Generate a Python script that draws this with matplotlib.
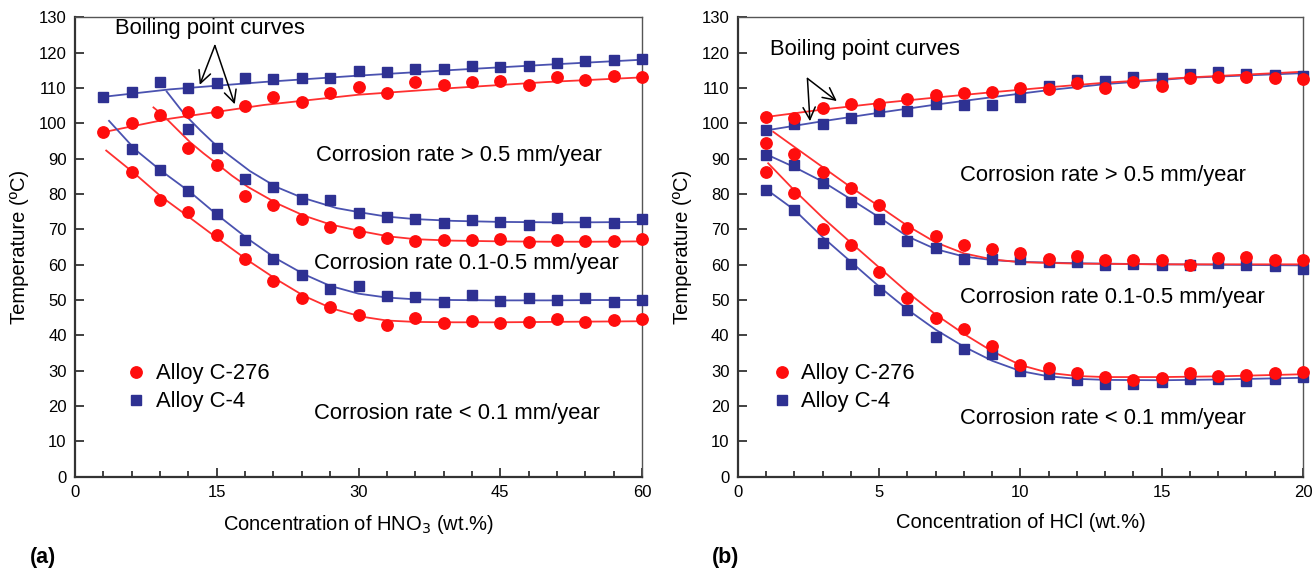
import matplotlib
matplotlib.use('Agg')
import matplotlib.pyplot as plt
from matplotlib.ticker import MultipleLocator

plt.rcParams['font.family'] = ['Liberation Sans', 'DejaVu Sans']

RED = '#ff0d0d'
BLUE = '#2e3192'
RED_LINE = '#ff3030'
BLUE_LINE = '#4a52b0'

# ---------------- (a) HNO3 ----------------
hno3_x = [3, 6, 9, 12, 15, 18, 21, 24, 27, 30, 33, 36, 39, 42, 45, 48, 51, 54, 57, 60]
hno3_bp_c276 = [97.6, 100.2, 102.4, 103.3, 103.2, 105.0, 107.5, 106.1, 108.7, 110.3,
                108.5, 111.6, 110.9, 111.6, 112.0, 110.8, 113.2, 112.3, 113.3, 113.0]
hno3_bp_c4 = [107.4, 109.0, 111.8, 110.1, 111.5, 112.7, 112.5, 112.7, 112.7, 114.8,
              114.6, 115.5, 115.3, 116.2, 115.8, 116.3, 117.0, 117.7, 118.0, 118.3]

hno3_hi_x = [12, 15, 18, 21, 24, 27, 30, 33, 36, 39, 42, 45, 48, 51, 54, 57, 60]
hno3_hi_c276 = [92.9, 88.3, 79.3, 76.8, 72.9, 70.8, 69.2, 67.6, 66.7, 67.0, 67.0, 67.2,
                66.5, 67.0, 66.7, 66.7, 67.2]
hno3_hi_c4 = [98.5, 92.9, 84.3, 82.0, 78.5, 78.2, 74.6, 73.6, 72.8, 71.7, 72.7, 72.1,
              71.2, 73.1, 72.1, 71.9, 73.0]

hno3_lo_x = [6, 9, 12, 15, 18, 21, 24, 27, 30, 33, 36, 39, 42, 45, 48, 51, 54, 57, 60]
hno3_lo_c276 = [86.2, 78.4, 74.8, 68.3, 61.7, 55.4, 50.5, 48.0, 45.9, 42.9, 44.9, 43.5,
                44.0, 43.5, 43.7, 44.6, 43.7, 44.4, 44.6]
hno3_lo_c4 = [92.6, 86.7, 80.9, 74.3, 67.1, 61.5, 57.2, 53.2, 54.0, 51.1, 50.8, 49.4,
              51.3, 49.6, 50.5, 49.9, 50.5, 49.4, 50.1]

# fitted curves
fit_a_bp_x = [3, 10, 20, 30, 40, 50, 60]
fit_a_bp_c276 = [97.5, 101.3, 105.2, 108.1, 110.0, 111.7, 113.0]
fit_a_bp_c4 = [107.5, 109.6, 111.7, 113.5, 115.1, 116.6, 118.0]

fit_a_hi_c276_x = [8.3, 9.3, 10.8, 12.2, 13.6, 15, 16.6, 18.3, 21.4, 24.2, 27, 30.2, 33.2,
                   36.1, 40, 45, 50, 55, 60]
fit_a_hi_c276 = [104.5, 102.3, 98.3, 94.6, 91.5, 88.6, 85.2, 82.0, 77.3, 73.9, 71.4, 69.5,
                 68.0, 67.2, 66.8, 66.6, 66.5, 66.5, 66.6]
fit_a_hi_c4_x = [9.7, 11.6, 13.3, 15, 18.5, 21.3, 24, 27.7, 30.2, 33, 36, 40, 45, 50, 55, 60]
fit_a_hi_c4 = [109.0, 102.5, 97.9, 93.6, 86.5, 82.0, 79.0, 76.0, 74.8, 73.6, 72.9, 72.4,
               72.1, 72.0, 72.0, 72.1]

fit_a_lo_c276_x = [3.3, 6.3, 9.1, 12, 15, 18.3, 21.4, 24.2, 27.2, 30.3, 33, 36, 40, 45, 50,
                   55, 60]
fit_a_lo_c276 = [92.3, 85.8, 79.3, 73.6, 67.6, 61.2, 55.7, 51.2, 47.6, 45.3, 44.2, 43.8,
                 43.7, 43.7, 43.8, 43.9, 44.0]
fit_a_lo_c4_x = [3.6, 6.4, 9.1, 12.2, 15, 18.3, 21.3, 24.3, 27, 30, 33, 36, 40, 45, 50, 55, 60]
fit_a_lo_c4 = [100.7, 92.5, 86.6, 80.5, 74.2, 67.3, 61.7, 57.2, 54.0, 51.8, 50.7, 50.2,
               50.0, 49.9, 49.9, 50.0, 50.0]

# ---------------- (b) HCl ----------------
hcl_x = list(range(1, 21))
hcl_bp_c276 = [101.9, 101.6, 104.4, 105.6, 105.5, 107.0, 108.0, 108.5, 109.0, 110.1,
               109.6, 111.3, 110.1, 111.8, 110.6, 112.7, 113.0, 113.2, 112.7, 112.5]
hcl_bp_c4 = [98.1, 99.7, 99.9, 101.6, 103.4, 103.4, 105.4, 105.2, 105.2, 107.4,
             110.6, 112.2, 112.0, 113.2, 112.7, 113.9, 114.4, 113.9, 113.7, 113.4]
hcl_hi_c276 = [94.4, 91.4, 86.2, 81.6, 76.9, 70.4, 68.0, 65.7, 64.4, 63.3,
               61.5, 62.4, 61.4, 61.4, 61.4, 59.8, 61.9, 62.2, 61.2, 61.4]
hcl_hi_c4 = [91.1, 88.3, 83.0, 77.7, 72.9, 66.8, 64.8, 61.7, 61.7, 61.7,
             60.7, 60.7, 59.8, 60.3, 59.8, 60.0, 60.5, 59.8, 59.5, 58.8]
hcl_lo_c276 = [86.1, 80.2, 70.2, 65.6, 57.9, 50.6, 44.9, 41.9, 37.0, 31.6,
               30.8, 29.4, 28.1, 27.5, 28.0, 29.4, 28.6, 28.9, 29.4, 29.6]
hcl_lo_c4 = [81.1, 75.4, 66.2, 60.1, 52.7, 47.2, 39.4, 36.2, 34.6, 29.8,
             29.1, 27.5, 26.3, 26.3, 26.7, 27.7, 27.7, 27.0, 27.7, 28.1]

fit_b_bp_x = [1, 3, 5, 7, 9, 11, 13, 16, 20]
fit_b_bp_c276 = [101.8, 103.9, 105.7, 107.3, 108.8, 110.2, 111.5, 113.0, 114.6]
fit_b_bp_c4 = [98.0, 100.6, 103.0, 105.3, 107.4, 109.4, 111.1, 112.9, 114.2]

fit_b_hi_c276_x = [1.25, 2, 3, 4, 5, 6, 7, 8, 9, 10, 12, 15, 20]
fit_b_hi_c276 = [97.6, 93.3, 87.6, 81.9, 76.5, 71.0, 66.3, 63.2, 61.5, 60.7, 60.3, 60.1, 60.1]
fit_b_hi_c4_x = [1.04, 2, 3, 4, 5, 6, 7, 8, 9, 10, 12, 15, 20]
fit_b_hi_c4 = [91.1, 87.6, 83.5, 78.5, 73.4, 68.0, 64.4, 62.3, 61.3, 60.8, 60.4, 60.1, 59.8]

fit_b_lo_c276_x = [1.07, 2, 3, 4, 5, 6, 7, 8, 9, 10, 11, 12, 13, 15, 17, 20]
fit_b_lo_c276 = [88.7, 81.0, 73.3, 66.2, 59.2, 52.2, 45.9, 40.4, 35.5, 31.6, 29.4, 28.5,
                 28.2, 28.2, 28.4, 29.0]
fit_b_lo_c4_x = [1.04, 2, 3, 4, 5, 6, 7, 8, 9, 10, 11, 12, 13, 15, 17, 20]
fit_b_lo_c4 = [81.1, 75.5, 67.8, 60.8, 53.8, 47.3, 41.6, 36.8, 32.8, 29.9, 28.4, 27.7,
               27.4, 27.3, 27.5, 28.0]


def style_axes(ax, xmax, xmajor, xminor, xlabel):
    ax.set_xlim(0, xmax)
    ax.set_ylim(0, 130)
    ax.xaxis.set_major_locator(MultipleLocator(xmajor))
    ax.xaxis.set_minor_locator(MultipleLocator(xminor))
    ax.yaxis.set_major_locator(MultipleLocator(10))
    ax.tick_params(which='both', direction='in', top=False, right=False, colors='#333333',
                   labelcolor='black', labelsize=12, width=1.3)
    ax.tick_params(which='major', length=6.5)
    ax.tick_params(which='minor', length=4)
    ax.tick_params(axis='y', pad=6)
    ax.tick_params(axis='x', pad=6)
    for side in ['left', 'bottom']:
        ax.spines[side].set_linewidth(1.6)
        ax.spines[side].set_color('#333333')
    for side in ['top', 'right']:
        ax.spines[side].set_linewidth(1.0)
        ax.spines[side].set_color('#555555')
    ax.set_ylabel('Temperature (ºC)', fontsize=14.5, labelpad=7)
    ax.set_xlabel(xlabel, fontsize=14.5, labelpad=9)


def draw_pair(ax, x_red, y_red, x_blue, y_blue, fx_red, fy_red, fx_blue, fy_blue, labels=False):
    ax.plot(fx_blue, fy_blue, color=BLUE_LINE, lw=1.3, zorder=2)
    ax.plot(fx_red, fy_red, color=RED_LINE, lw=1.3, zorder=2)
    ax.plot(x_blue, y_blue, linestyle='none', marker='s', ms=7.4, color=BLUE, mec=BLUE,
            clip_on=False, zorder=3, label='Alloy C-4' if labels else None)
    ax.plot(x_red, y_red, linestyle='none', marker='o', ms=8.2, color=RED, mec=RED,
            clip_on=False, zorder=3, label='Alloy C-276' if labels else None)


fig = plt.figure(figsize=(13.14, 5.77), dpi=100)
ax1 = fig.add_axes([0.0571, 0.1738, 0.4315, 0.7962])
ax2 = fig.add_axes([0.5616, 0.1738, 0.4300, 0.7962])

# panel (a)
draw_pair(ax1, hno3_x, hno3_bp_c276, hno3_x, hno3_bp_c4,
          fit_a_bp_x, fit_a_bp_c276, fit_a_bp_x, fit_a_bp_c4, labels=True)
draw_pair(ax1, hno3_hi_x, hno3_hi_c276, hno3_hi_x, hno3_hi_c4,
          fit_a_hi_c276_x, fit_a_hi_c276, fit_a_hi_c4_x, fit_a_hi_c4)
draw_pair(ax1, hno3_lo_x, hno3_lo_c276, hno3_lo_x, hno3_lo_c4,
          fit_a_lo_c276_x, fit_a_lo_c276, fit_a_lo_c4_x, fit_a_lo_c4)
style_axes(ax1, 60, 15, 3, 'Concentration of HNO$_3$ (wt.%)')

ax1.text(4.2, 126.7, 'Boiling point curves', fontsize=15.8, va='center', ha='left')
arrow = dict(arrowstyle='->', lw=1.1, color='black', mutation_scale=22, shrinkA=0, shrinkB=0)
ax1.annotate('', xy=(13.2, 110.9), xytext=(14.8, 122.0), arrowprops=arrow)
ax1.annotate('', xy=(16.9, 105.4), xytext=(14.8, 122.0), arrowprops=arrow)
ax1.text(25.5, 91.0, 'Corrosion rate > 0.5 mm/year', fontsize=15.8, va='center', ha='left')
ax1.text(25.3, 60.3, 'Corrosion rate 0.1-0.5 mm/year', fontsize=15.8, va='center', ha='left')
ax1.text(25.3, 18.0, 'Corrosion rate < 0.1 mm/year', fontsize=15.8, va='center', ha='left')

# panel (b)
draw_pair(ax2, hcl_x, hcl_bp_c276, hcl_x, hcl_bp_c4,
          fit_b_bp_x, fit_b_bp_c276, fit_b_bp_x, fit_b_bp_c4, labels=True)
draw_pair(ax2, hcl_x, hcl_hi_c276, hcl_x, hcl_hi_c4,
          fit_b_hi_c276_x, fit_b_hi_c276, fit_b_hi_c4_x, fit_b_hi_c4)
draw_pair(ax2, hcl_x, hcl_lo_c276, hcl_x, hcl_lo_c4,
          fit_b_lo_c276_x, fit_b_lo_c276, fit_b_lo_c4_x, fit_b_lo_c4)
style_axes(ax2, 20, 5, 1, 'Concentration of HCl (wt.%)')

ax2.text(1.13, 121.0, 'Boiling point curves', fontsize=15.8, va='center', ha='left')
ax2.annotate('', xy=(3.5, 106.3), xytext=(2.46, 112.7), arrowprops=arrow)
ax2.annotate('', xy=(2.55, 100.6), xytext=(2.46, 112.7), arrowprops=arrow)
ax2.text(7.87, 85.3, 'Corrosion rate > 0.5 mm/year', fontsize=15.8, va='center', ha='left')
ax2.text(7.87, 50.6, 'Corrosion rate 0.1-0.5 mm/year', fontsize=15.8, va='center', ha='left')
ax2.text(7.87, 16.5, 'Corrosion rate < 0.1 mm/year', fontsize=15.8, va='center', ha='left')

for ax, xpos in [(ax1, 0.089), (ax2, 0.058)]:
    handles, labels = ax.get_legend_handles_labels()
    order = [labels.index('Alloy C-276'), labels.index('Alloy C-4')]
    ax.legend([handles[i] for i in order], [labels[i] for i in order],
              loc='upper left', bbox_to_anchor=(xpos, 0.247), frameon=False,
              fontsize=15.8, handlelength=1.0, handletextpad=0.4, borderpad=0,
              borderaxespad=0, labelspacing=0.32, numpoints=1)

fig.text(0.023, 0.033, '(a)', fontsize=15.5, fontweight='bold', va='center')
fig.text(0.542, 0.033, '(b)', fontsize=15.5, fontweight='bold', va='center')

plt.savefig('out.png', dpi=100)
